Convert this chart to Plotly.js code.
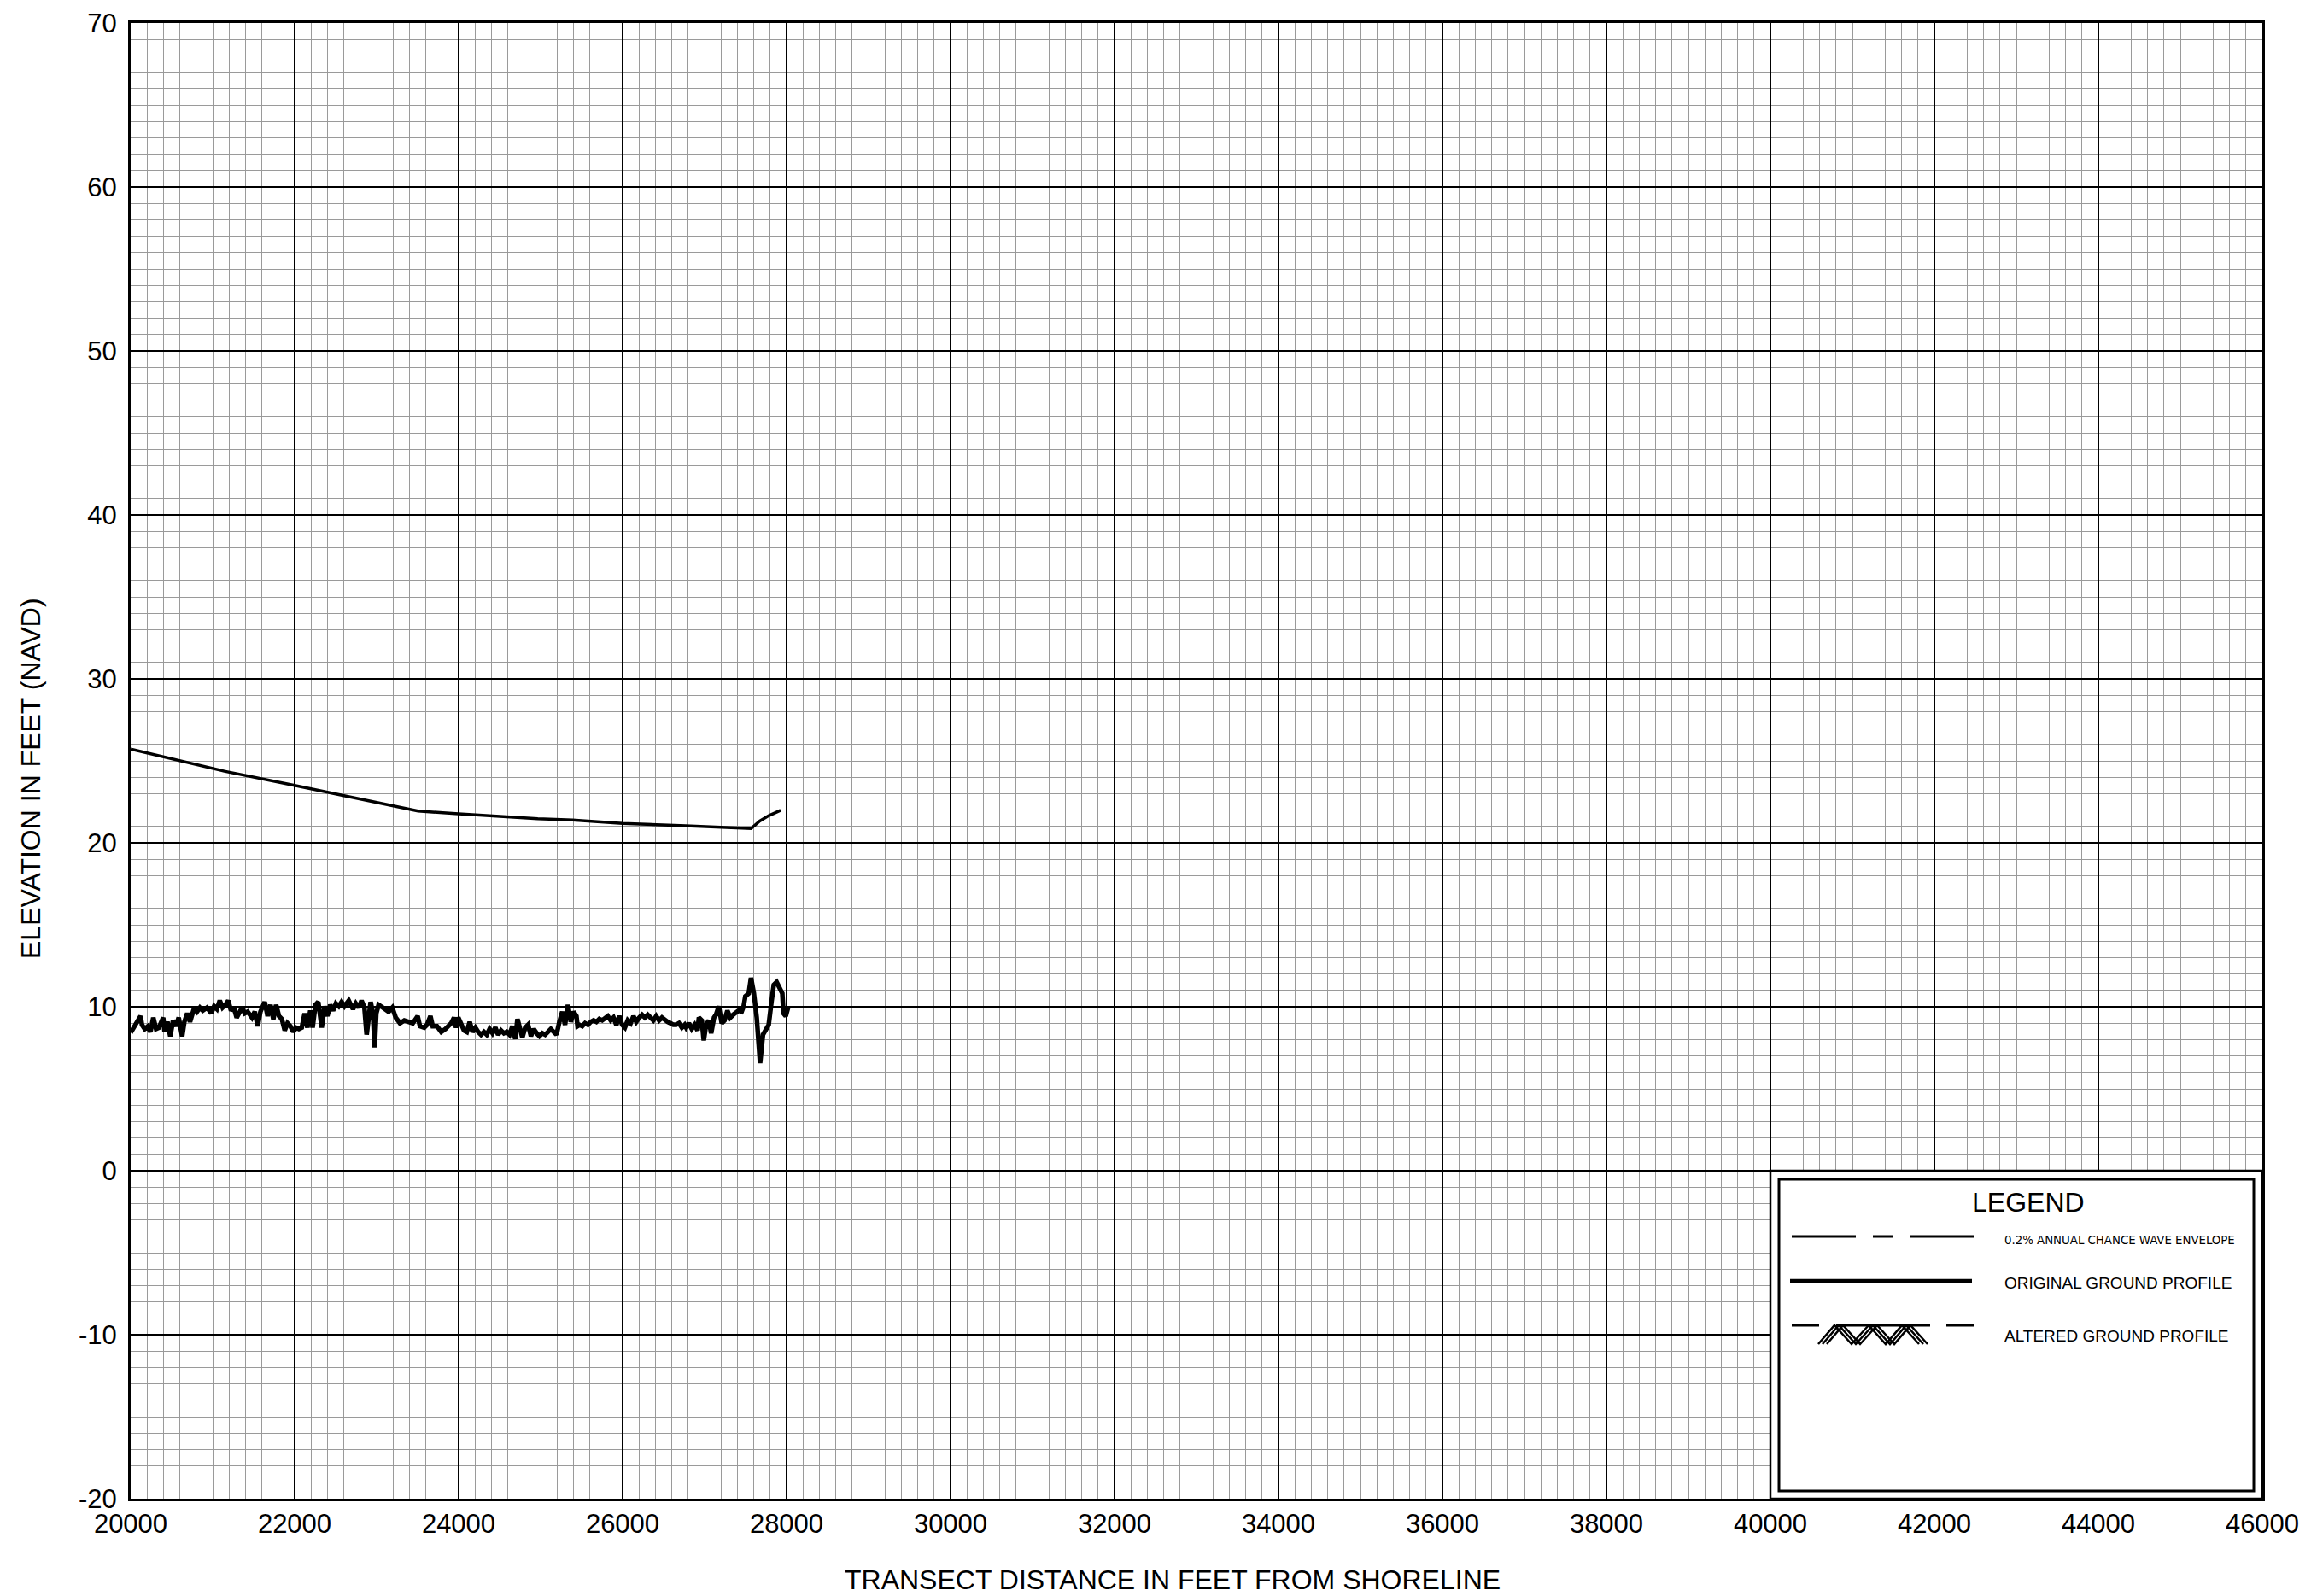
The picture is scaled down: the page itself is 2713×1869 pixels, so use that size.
<!DOCTYPE html>
<html><head><meta charset="utf-8">
<script src="https://cdn.plot.ly/plotly-3.0.1.min.js"></script>
<style>html,body{margin:0;padding:0;background:#fff}</style>
</head><body><div id="chart" style="width:2713px;height:1869px"></div>
<script>
// ---- data ----
const envelopeX = [20000,21142,22000,22629,23505,24000,24965,25390,26000,26770,27408,27567,27673,27780,27928];
const envelopeY = [25.72,24.37,23.5,22.86,21.94,21.77,21.47,21.39,21.18,21.04,20.87,20.87,21.33,21.65,21.99];

const groundX = [20000,20052,20121,20138,20172,20207,20241,20276,20310,20345,20397,20414,20448,20483,20517,20552,20586,20628,20655,20690,20724,20776,20810,20845,20880,20931,20983,21018,21052,21087,21121,21155,21190,21224,21259,21293,21328,
21358,21392,21427,21479,21514,21549,21583,21635,21670,21705,21740,21774,21809,21844,21879,21913,21948,21983,22017,22052,22087,22122,22156,22191,22219,22254,22288,22330,22365,22399,22434,22469,22503,22538,22573,22608,22660,22694,
22712,22746,22781,22816,22851,22878,22903,22927,22955,22976,22996,23024,23076,23111,23146,23191,23233,23285,23337,23389,23441,23500,23528,23580,23614,23656,23684,23736,23788,23840,23875,23910,23944,23969,23996,24031,24066,
24100,24135,24170,24205,24239,24274,24309,24343,24378,24413,24448,24482,24517,24552,24587,24621,24656,24691,24718,24753,24777,24812,24847,24882,24916,24951,24986,25021,25055,25090,25125,25159,25194,25229,25264,25298,25333,25368,25402,25437,
25450,25473,25508,25542,25577,25612,25646,25681,25716,25751,25785,25820,25855,25889,25924,25959,25994,26028,26063,26098,26132,26167,26202,26237,26271,26306,26341,26375,26410,26445,26480,26514,26549,26584,26619,26653,26688,26723,26757,
26775,26809,26844,26879,26914,26931,26966,26990,27018,27052,27080,27115,27139,27174,27209,27243,27278,27313,27348,27382,27417,27452,27476,27497,27539,27566,27601,27636,27677,27712,27747,27782,27816,27844,27879,27920,27948,27962,27990,28018];
const groundY = [8.42,8.9,9.43,8.9,8.65,8.8,8.47,9.34,8.65,8.73,9.34,8.47,9.08,8.2,9.17,8.82,9.34,8.2,9.08,9.6,9.08,9.95,9.7,9.95,9.77,9.95,9.6,10.03,9.86,10.38,9.95,10.12,10.38,9.77,9.95,9.34,9.7,
9.95,9.6,9.7,9.34,9.7,8.82,9.7,10.3,9.43,10.12,9.25,10.12,9.43,9.25,8.56,9.0,8.82,8.47,8.73,8.65,8.73,9.6,8.73,9.77,8.73,10.12,10.3,8.73,10.03,9.43,10.12,9.77,10.2,10.03,10.3,10.03,10.38,10.03,
9.86,10.2,9.95,10.38,9.95,8.3,9.6,10.3,9.6,7.52,9.6,10.12,9.95,9.86,9.7,9.95,9.34,9.0,9.17,9.08,9.0,9.43,8.82,8.73,8.9,9.43,8.82,8.82,8.47,8.65,8.82,9.0,9.34,8.73,9.34,8.9,8.56,
8.47,9.08,8.47,8.73,8.47,8.3,8.47,8.3,8.65,8.39,8.73,8.3,8.56,8.39,8.47,8.3,8.82,8.04,9.25,8.39,8.13,8.73,8.9,8.21,8.65,8.39,8.21,8.39,8.3,8.47,8.65,8.47,8.3,9.08,9.7,8.9,10.12,9.08,9.7,9.43,
8.82,8.9,8.82,9.0,8.9,9.08,9.17,9.08,9.25,9.17,9.34,9.43,9.17,9.34,8.9,9.43,8.9,8.73,9.17,9.0,9.43,9.08,9.34,9.51,9.34,9.51,9.34,9.17,9.43,9.17,9.34,9.17,9.08,9.0,8.9,8.9,9.0,8.73,8.9,
8.73,9.0,8.65,8.9,8.56,9.34,9.17,7.95,8.9,9.17,8.39,9.34,9.51,10.03,9.0,9.17,9.77,9.34,9.51,9.6,9.77,9.7,10.03,10.64,10.82,11.77,10.82,9.34,6.56,8.3,8.65,8.9,10.3,11.34,11.51,10.99,10.82,9.6,9.43,9.95];

const xTickVals = [20000,22000,24000,26000,28000,30000,32000,34000,36000,38000,40000,42000,44000,46000];
const yTickVals = [-20,-10,0,10,20,30,40,50,60,70];
const xTitle = "TRANSECT DISTANCE IN FEET FROM SHORELINE";
const yTitle = "ELEVATION IN FEET (NAVD)";
const legendTitle = "LEGEND";
const legendLabels = ["0.2% ANNUAL CHANCE WAVE ENVELOPE", "ORIGINAL GROUND PROFILE", "ALTERED GROUND PROFILE"];

// ---- layout geometry ----
const W = 2713, H = 1869;
const M = {l:153, r:64, t:27, b:114};
const PW = W - M.l - M.r, PH = H - M.t - M.b;
const XR = [xTickVals[0], xTickVals[xTickVals.length-1]];
const YR = [yTickVals[0], yTickVals[yTickVals.length-1]];
const fx = px => XR[0] + (px - M.l) / PW * (XR[1]-XR[0]);
const fy = py => YR[1] - (py - M.t) / PH * (YR[1]-YR[0]);
const FONT = '"Liberation Sans", Arial, Helvetica, sans-serif';

const traces = [
  {x: envelopeX, y: envelopeY, mode:'lines', line:{color:'#000', width:3.5}, hoverinfo:'skip', showlegend:false},
  {x: groundX, y: groundY, mode:'lines', line:{color:'#000', width:5.5}, hoverinfo:'skip', showlegend:false}
];

function seg(x0,x1,y,w){ return {type:'line', xref:'x', yref:'y', x0:fx(x0), x1:fx(x1), y0:fy(y), y1:fy(y), line:{color:'#000', width:w}}; }

const shapes = [
  {type:'rect', xref:'x', yref:'y', x0:40000, x1:46000, y0:-20, y1:0, fillcolor:'#fff', line:{color:'#000', width:2.5}},
  {type:'rect', xref:'x', yref:'y', x0:fx(2083), x1:fx(2639), y0:fy(1746), y1:fy(1381), line:{color:'#000', width:3}},
  seg(2098,2173,1448,3), seg(2193,2216,1448,3), seg(2236,2311,1448,3),
  seg(2096,2309,1500,4.5),
  seg(2098,2130,1552,3), seg(2150,2260,1552,3), seg(2279,2311,1552,3)
];
const zig = [[2134,1574],[2153,1552],[2173,1574],[2193,1552],[2213,1574],[2232,1552],[2252,1574]];
[-5,0,5].forEach(d => {
  const p = zig.map((q,i) => (i?'L':'M') + fx(q[0]+d) + ',' + fy(q[1])).join(' ');
  shapes.push({type:'path', xref:'x', yref:'y', path:p, line:{color:'#000', width:2.5}});
});

const annotations = [
  {text:legendTitle, xref:'x', yref:'y', x:fx(2375), y:fy(1408), showarrow:false, xanchor:'center', yanchor:'middle', font:{family:FONT, size:32, color:'#000'}},
  {text:legendLabels[0], xref:'x', yref:'y', x:fx(2345), y:fy(1451), showarrow:false, xanchor:'left', yanchor:'middle', font:{family:'"Liberation Sans Narrow", "DejaVu Sans Condensed", Arial, sans-serif', size:14.8, color:'#000'}},
  {text:legendLabels[1], xref:'x', yref:'y', x:fx(2345), y:fy(1502), showarrow:false, xanchor:'left', yanchor:'middle', font:{family:FONT, size:19, color:'#000'}},
  {text:legendLabels[2], xref:'x', yref:'y', x:fx(2345), y:fy(1564), showarrow:false, xanchor:'left', yanchor:'middle', font:{family:FONT, size:19, color:'#000'}},
  {text:xTitle, xref:'paper', yref:'paper', x:(1373-M.l)/PW, y:(M.t+PH-1850)/PH, showarrow:false, xanchor:'center', yanchor:'middle', font:{family:FONT, size:32, color:'#000'}},
  {text:yTitle, xref:'paper', yref:'paper', x:(36-M.l)/PW, y:(M.t+PH-912)/PH, showarrow:false, xanchor:'center', yanchor:'middle', textangle:-90, font:{family:FONT, size:32, color:'#000'}}
];

const axisCommon = {
  showline:true, mirror:true, linecolor:'#000', linewidth:3,
  gridcolor:'#000', gridwidth:2, zeroline:false, ticks:'',
  tickfont:{family:FONT, size:31, color:'#000'}, fixedrange:true
};

const layout = {
  width:W, height:H, margin:{l:M.l, r:M.r, t:M.t, b:M.b, pad:0},
  paper_bgcolor:'#fff', plot_bgcolor:'#fff', showlegend:false,
  font:{family:FONT, color:'#000'},
  xaxis: Object.assign({}, axisCommon, {range:XR, tickmode:'array', tickvals:xTickVals, ticktext:xTickVals.map(String), ticklabelstandoff:0,
    minor:{dtick:200, tick0:20000, showgrid:true, gridcolor:'#9a9a9a', gridwidth:1, ticks:''}}),
  yaxis: Object.assign({}, axisCommon, {range:YR, tickmode:'array', tickvals:yTickVals, ticktext:yTickVals.map(String), ticklabelstandoff:7,
    minor:{dtick:1, tick0:0, showgrid:true, gridcolor:'#9a9a9a', gridwidth:1, ticks:''}}),
  shapes: shapes, annotations: annotations
};

Plotly.newPlot('chart', traces, layout, {staticPlot:true, displayModeBar:false});
</script></body></html>
